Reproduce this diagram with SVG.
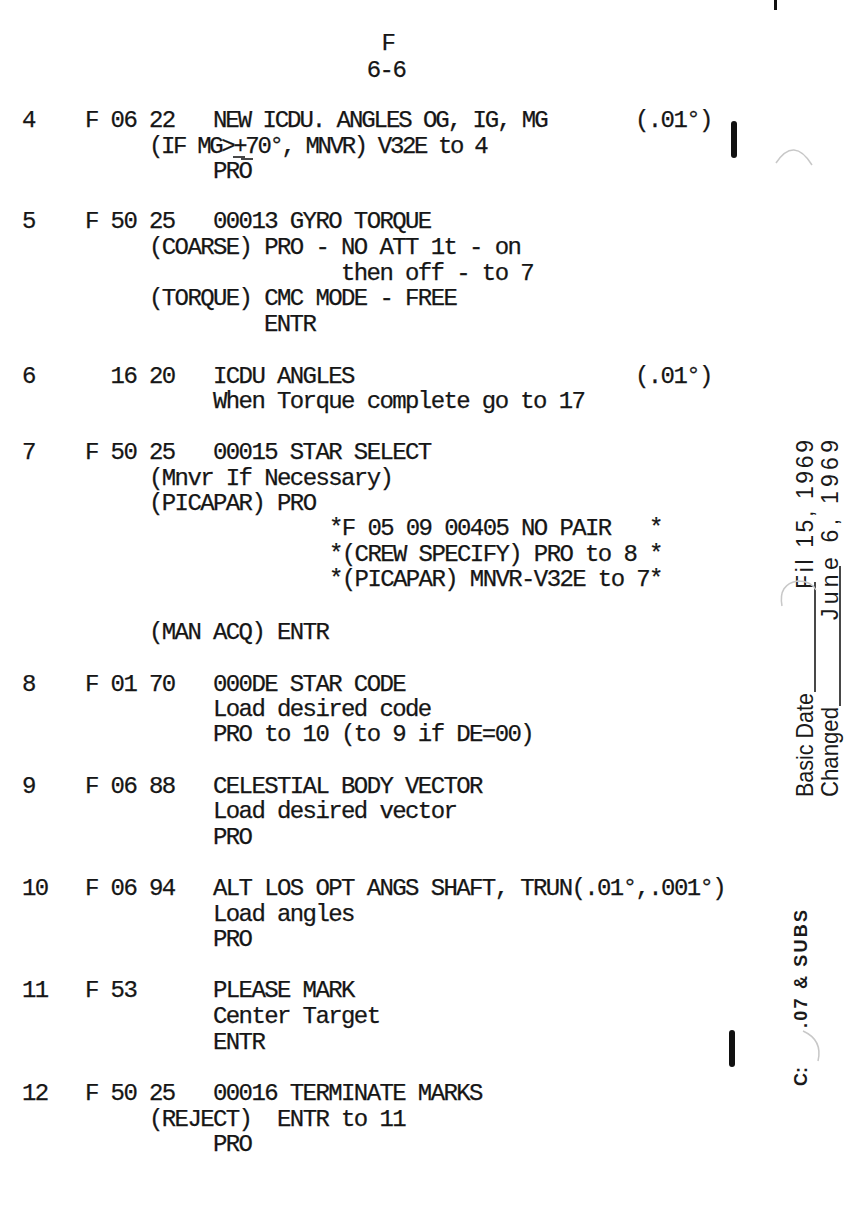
<svg xmlns="http://www.w3.org/2000/svg" width="855" height="1226" viewBox="0 0 855 1226" xml:space="preserve">
<style>
.t{font-family:"Liberation Mono","DejaVu Sans Mono",monospace;font-size:24px;letter-spacing:-1.6px;fill:#161616;stroke:#161616;stroke-width:0.25;white-space:pre}
.s{font-family:"Liberation Sans",Arial,sans-serif;font-size:24px;fill:#1a1a1a}
.d{font-family:"Liberation Sans",Arial,sans-serif;font-size:23px;fill:#1a1a1a}
.b{font-family:"Liberation Sans",Arial,sans-serif;font-size:18px;font-weight:bold;fill:#1a1a1a}
.ink{fill:#111}
.rule{stroke:#1a1a1a;stroke-width:1.6}
.smudge{fill:none;stroke:#c8c8c8;stroke-width:1.5}
</style>
<rect width="855" height="1226" fill="#ffffff"/>

<g id="header">
<text class="t" x="388" y="50" text-anchor="middle">F</text>
<text class="t" x="386" y="77" text-anchor="middle">6-6</text>
</g>

<g id="step4">
<text class="t" x="22" y="127">4</text>
<text class="t" x="85" y="127">F 06 22</text>
<text class="t" x="213" y="127" textLength="334" lengthAdjust="spacing">NEW ICDU. ANGLES OG, IG, MG</text>
<text class="t" x="635" y="127">(.01°)</text>
<text class="t" x="149" y="153" textLength="338" lengthAdjust="spacing">(IF MG&gt;+70°, MNVR) V32E to 4</text>
<line class="rule" x1="233" y1="157" x2="245" y2="157"/>
<text class="t" x="213" y="178">PRO</text>
<line class="rule" x1="241" y1="159" x2="253" y2="159"/>
</g>

<g id="step5">
<text class="t" x="22" y="228">5</text>
<text class="t" x="85" y="228">F 50 25</text>
<text class="t" x="213" y="228">00013 GYRO TORQUE</text>
<text class="t" x="149" y="254">(COARSE) PRO - NO ATT 1t - on</text>
<text class="t" x="341" y="280">then off - to 7</text>
<text class="t" x="149" y="305">(TORQUE) CMC MODE - FREE</text>
<text class="t" x="264" y="331">ENTR</text>
</g>

<g id="step6">
<text class="t" x="22" y="383">6</text>
<text class="t" x="110.6" y="383">16 20</text>
<text class="t" x="213" y="383">ICDU ANGLES</text>
<text class="t" x="635" y="383">(.01°)</text>
<text class="t" x="213" y="408">When Torque complete go to 17</text>
</g>

<g id="step7">
<text class="t" x="22" y="459">7</text>
<text class="t" x="85" y="459">F 50 25</text>
<text class="t" x="213" y="459">00015 STAR SELECT</text>
<text class="t" x="149" y="485">(Mnvr If Necessary)</text>
<text class="t" x="149" y="510">(PICAPAR) PRO</text>
<text class="t" x="329" y="535">*F 05 09 00405 NO PAIR   *</text>
<text class="t" x="329" y="561">*(CREW SPECIFY) PRO to 8 *</text>
<text class="t" x="329" y="586">*(PICAPAR) MNVR-V32E to 7*</text>
<text class="t" x="149" y="639">(MAN ACQ) ENTR</text>
</g>

<g id="step8">
<text class="t" x="22" y="691">8</text>
<text class="t" x="85" y="691">F 01 70</text>
<text class="t" x="213" y="691">000DE STAR CODE</text>
<text class="t" x="213" y="716">Load desired code</text>
<text class="t" x="213" y="741">PRO to 10 (to 9 if DE=00)</text>
</g>

<g id="step9">
<text class="t" x="22" y="793">9</text>
<text class="t" x="85" y="793">F 06 88</text>
<text class="t" x="213" y="793">CELESTIAL BODY VECTOR</text>
<text class="t" x="213" y="818">Load desired vector</text>
<text class="t" x="213" y="844">PRO</text>
</g>

<g id="step10">
<text class="t" x="22" y="895">10</text>
<text class="t" x="85" y="895">F 06 94</text>
<text class="t" x="213" y="895">ALT LOS OPT ANGS SHAFT, TRUN(.01°,.001°)</text>
<text class="t" x="213" y="921">Load angles</text>
<text class="t" x="213" y="946">PRO</text>
</g>

<g id="step11">
<text class="t" x="22" y="997">11</text>
<text class="t" x="85" y="997">F 53</text>
<text class="t" x="213" y="997">PLEASE MARK</text>
<text class="t" x="213" y="1023">Center Target</text>
<text class="t" x="213" y="1049">ENTR</text>
</g>

<g id="step12">
<text class="t" x="22" y="1100">12</text>
<text class="t" x="85" y="1100">F 50 25</text>
<text class="t" x="213" y="1100">00016 TERMINATE MARKS</text>
<text class="t" x="149" y="1126">(REJECT)  ENTR to 11</text>
<text class="t" x="213" y="1151">PRO</text>
</g>

<g id="change-bars">
<rect class="ink" x="774" y="0" width="3" height="10"/>
<rect class="ink" x="731" y="121" width="6" height="37" rx="3"/>
<rect class="ink" x="729" y="1030" width="6" height="37" rx="3"/>
</g>

<g id="margin-dates">
<text class="s" transform="translate(813,797) rotate(-90)" textLength="104" lengthAdjust="spacingAndGlyphs">Basic Date</text>
<line class="rule" x1="815" y1="692" x2="815" y2="582"/>
<text class="d" transform="translate(813,589) rotate(-90)" textLength="149" lengthAdjust="spacing">Fil 15, 1969</text>
<text class="s" transform="translate(838,797) rotate(-90)" textLength="90" lengthAdjust="spacingAndGlyphs">Changed</text>
<line class="rule" x1="840" y1="706" x2="840" y2="566"/>
<text class="d" transform="translate(838,620) rotate(-90)" textLength="180" lengthAdjust="spacing">June 6, 1969</text>
</g>

<g id="margin-config">
<text class="b" transform="translate(807,1086) rotate(-90)">C:</text>
<text class="b" transform="translate(807,1028) rotate(-90)" textLength="118" lengthAdjust="spacing">.07 &amp; SUBS</text>
</g>

<g id="scan-marks">
<path class="smudge" d="M776,163 Q794,136 812,165"/>
<path class="smudge" d="M782,606 Q778,584 798,581 Q811,581 816,590"/>
<path class="smudge" d="M803,1031 Q823,1040 818,1061"/>
</g>
</svg>
